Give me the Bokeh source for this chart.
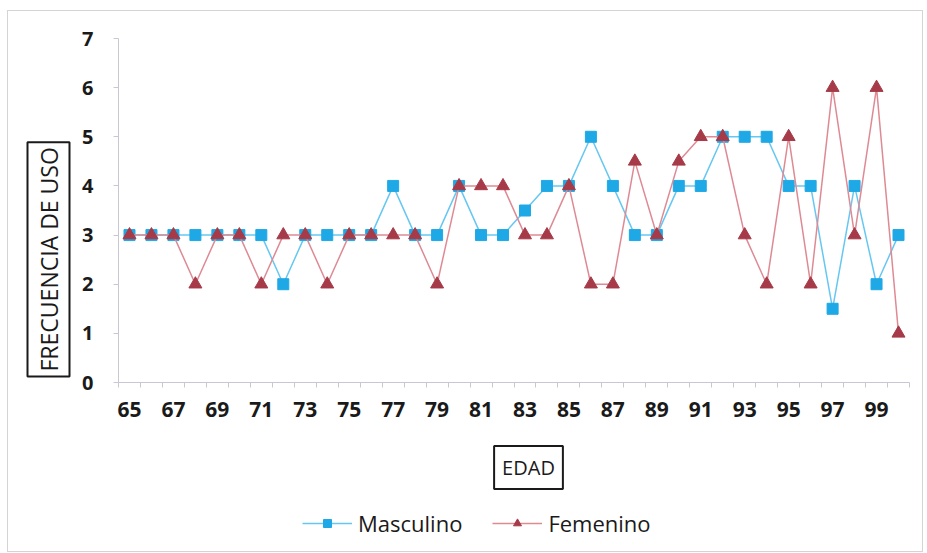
from bokeh.plotting import figure
from bokeh.layouts import column
from bokeh.models import (FixedTicker, Legend, LegendItem, ColumnDataSource, Range1d,
                          Title, Label)
from bokeh.embed import file_html
from bokeh.resources import INLINE

edad = list(range(65, 101))
masculino = [3, 3, 3, 3, 3, 3, 3, 2, 3, 3, 3, 3, 4, 3, 3, 4, 3, 3, 3.5, 4,
             4, 5, 4, 3, 3, 4, 4, 5, 5, 5, 4, 4, 1.5, 4, 2, 3]
femenino = [3, 3, 3, 2, 3, 3, 2, 3, 3, 2, 3, 3, 3, 3, 2, 4, 4, 4, 3, 3,
            4, 2, 2, 4.5, 3, 4.5, 5, 5, 3, 2, 5, 2, 6, 3, 6, 1]
x_labels = list(range(65, 100, 2))
y_ticks = list(range(0, 8))

FONT = "Open Sans"
TXT = "#1a1a1a"
AXC = "#c8c8d4"
M_LINE, M_MARK = "#66C7F2", "#1EA9E6"
F_LINE, F_MARK = "#DE8A94", "#A63A48"

W, H1, H2 = 914, 423, 117
FL, FR = 110, 13   # frame borders left / right (canvas px)

p = figure(width=W, height=H1, output_backend="svg", toolbar_location=None,
           x_range=Range1d(64.5, 100.5), y_range=Range1d(0, 7),
           min_border_left=FL, min_border_right=FR, min_border_top=27, min_border_bottom=52)
p.outline_line_color = None
p.xgrid.grid_line_color = None
p.ygrid.grid_line_color = None

p.xaxis.ticker = FixedTicker(ticks=x_labels, minor_ticks=[x - 0.5 for x in edad] + [100.5])
p.xaxis.major_tick_out = 0
p.xaxis.major_tick_in = 0
p.xaxis.minor_tick_out = 5
p.xaxis.minor_tick_in = 0
p.xaxis.minor_tick_line_color = AXC
p.xaxis.axis_line_color = AXC
p.xaxis.major_label_text_font = FONT
p.xaxis.major_label_text_font_size = "21px"
p.xaxis.major_label_text_font_style = "bold"
p.xaxis.major_label_text_color = TXT
p.xaxis.major_label_standoff = 14

p.yaxis.ticker = FixedTicker(ticks=y_ticks)
p.yaxis.major_tick_out = 5
p.yaxis.major_tick_in = 0
p.yaxis.minor_tick_out = 0
p.yaxis.minor_tick_in = 0
p.yaxis.major_tick_line_color = AXC
p.yaxis.axis_line_color = AXC
p.yaxis.major_label_text_font = FONT
p.yaxis.major_label_text_font_size = "20px"
p.yaxis.major_label_text_font_style = "bold"
p.yaxis.major_label_text_color = TXT
p.yaxis.major_label_standoff = 20

src = ColumnDataSource(dict(x=edad, m=masculino, f=femenino))
p.line("x", "m", source=src, line_color=M_LINE, line_width=1.5)
p.scatter("x", "m", source=src, marker="square", size=11, fill_color=M_MARK, line_color=M_MARK)
p.line("x", "f", source=src, line_color=F_LINE, line_width=1.5)
p.scatter("x", "f", source=src, marker="triangle", size=13, fill_color=F_MARK, line_color=F_MARK)

ytitle = Title(text="FRECUENCIA DE USO", align="left", offset=6, standoff=20,
               text_font=FONT, text_font_size="23px", text_font_style="normal",
               text_color=TXT, border_line_color=TXT, border_line_width=2,
               background_fill_color="white", padding=5)
p.add_layout(ytitle, "left")

# lower strip (its frame lines up with the main frame): axis title box and legend
p2 = figure(width=W, height=H2, output_backend="svg", toolbar_location=None,
            x_range=Range1d(FL, W - FR), y_range=Range1d(0, H2),
            x_axis_location=None, y_axis_location=None,
            min_border_left=FL, min_border_right=FR, min_border_top=0, min_border_bottom=0)
p2.outline_line_color = None
p2.xgrid.grid_line_color = None
p2.ygrid.grid_line_color = None

xlab = Label(x=520, y=H2 - 33, text="EDAD", text_align="center", text_baseline="middle",
             text_font=FONT, text_font_size="20px", text_color=TXT,
             border_line_color=TXT, border_line_width=2,
             background_fill_color="white", padding=8)
p2.add_layout(xlab)

# legend swatches: hidden copies of the two series
lm2 = p2.line("x", "m", source=src, line_color=M_LINE, line_width=1.5, visible=False)
sm2 = p2.scatter("x", "m", source=src, marker="square", size=11, fill_color=M_MARK,
                 line_color=M_MARK, visible=False)
lf2 = p2.line("x", "f", source=src, line_color=F_LINE, line_width=1.5, visible=False)
sf2 = p2.scatter("x", "f", source=src, marker="triangle", size=13, fill_color=F_MARK,
                 line_color=F_MARK, visible=False)

legend = Legend(items=[LegendItem(label="Masculino", renderers=[lm2, sm2]),
                       LegendItem(label="Femenino", renderers=[lf2, sf2])],
                orientation="horizontal", location=(294 - FL, 13), padding=5,
                label_text_font=FONT, label_text_font_size="22px",
                label_text_color=TXT, glyph_width=50, label_standoff=6, spacing=30,
                border_line_color=None, background_fill_alpha=0,
                inactive_fill_alpha=0)
p2.add_layout(legend, "center")

col = column(p, p2, spacing=0)
col.styles = {"border": "1px solid #d4d4d4", "margin-left": "7px", "margin-top": "10px"}

open("out.html", "w").write(file_html(col, INLINE))
